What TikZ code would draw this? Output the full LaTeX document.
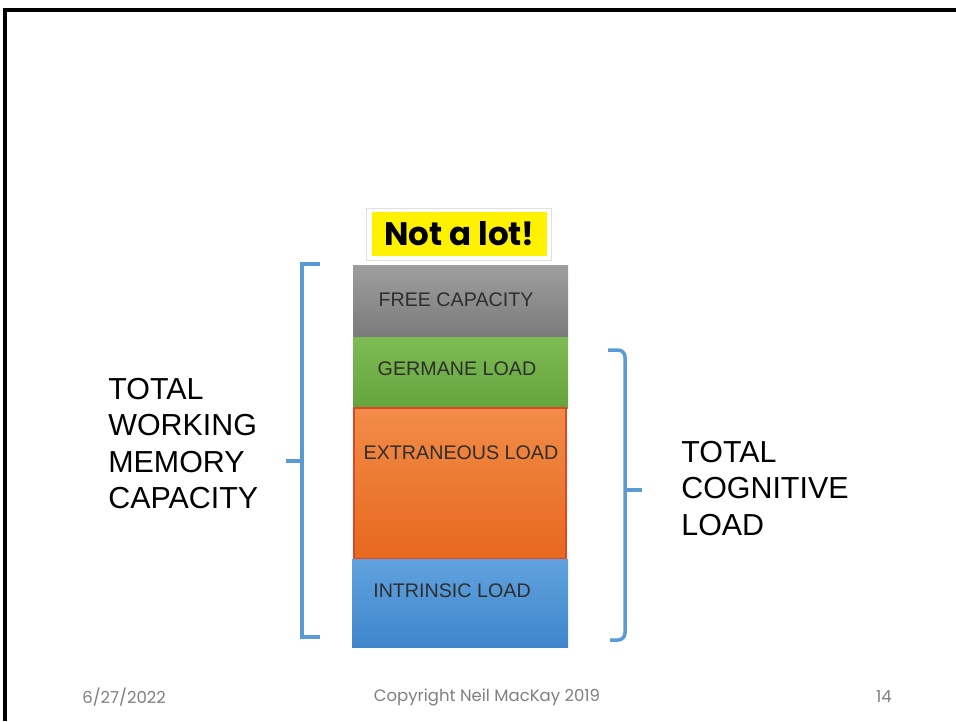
\documentclass[tikz,border=0pt]{standalone}
\usepackage{fontspec}
\setmainfont{Liberation Sans}
\newfontfamily\comicfont{Poppins}
\definecolor{bracketblue}{HTML}{5B9BD5}
\definecolor{labelgray}{HTML}{2E2E2E}
\definecolor{footgray}{HTML}{7F7F7F}
\tikzset{
  blocklabel/.style={inner sep=0pt, text=labelgray, font=\fontsize{11.2}{13}\selectfont},
  sidelabel/.style={inner sep=0pt, anchor=north west, align=left, font=\fontsize{17.3}{20.7}\selectfont},
  footlabel/.style={inner sep=0pt, text=footgray, font=\comicfont\fontsize{9.4}{11}\selectfont},
  bracket/.style={draw=bracketblue, line width=2pt}
}
\begin{document}
\begin{tikzpicture}[x=0.02cm, y=-0.02cm]
  \useasboundingbox (0,0) rectangle (956,721);
  % slide frame
  \draw[line width=2.2pt] (5,721) -- (5,10) -- (956,10);
  % stacked blocks
  \shade[top color=black!38, bottom color=black!52] (353,265) rectangle (568,337);
  \shade[top color={rgb,255:red,125;green,188;blue,84}, bottom color={rgb,255:red,100;green,163;blue,62}] (353,337) rectangle (568,408);
  \shade[top color={rgb,255:red,241;green,140;blue,72}, bottom color={rgb,255:red,232;green,104;blue,30}] (354,408) rectangle (566,559);
  \draw[draw={rgb,255:red,222;green,70;blue,40}, line width=0.6pt] (354,408) rectangle (566,559);
  \shade[top color={rgb,255:red,96;green,162;blue,222}, bottom color={rgb,255:red,64;green,134;blue,204}] (352,559) rectangle (568,647);
  \node[blocklabel] (free) at (456,300) {FREE CAPACITY};
  \node[blocklabel] (germane) at (457,369) {GERMANE LOAD};
  \node[blocklabel] (extraneous) at (461,453) {EXTRANEOUS LOAD};
  \node[blocklabel] (intrinsic) at (452,591) {INTRINSIC LOAD};
  % callout
  \draw[draw=black!12, fill=white, line width=0.5pt] (366,208) rectangle (551,260);
  \node[fill=yellow, minimum width=3.5cm, minimum height=0.88cm, inner sep=0pt,
        font=\comicfont\bfseries\fontsize{18.5}{20}\selectfont] (notalot) at (459.5,234) {Not a lot!};
  % left bracket
  \draw[bracket] (320,264) -- (302,264) -- (302,637) -- (320,637);
  \draw[bracket] (302,461) -- (286,461);
  % right bracket
  \draw[bracket, rounded corners=4pt] (608,350) -- (625,350) -- (625,640) -- (610,640);
  \draw[bracket] (625,490) -- (642,490);
  % side labels
  \node[sidelabel] (wmc) at (108,378) {TOTAL\\WORKING\\MEMORY\\CAPACITY};
  \node[sidelabel] (tcl) at (681,441) {TOTAL\\COGNITIVE\\LOAD};
  % footer
  \node[footlabel, anchor=west] (date) at (82,697) {6/27/2022};
  \node[footlabel] (copy) at (487,697) {Copyright Neil MacKay 2019};
  \node[footlabel] (page) at (884,697) {14};
\end{tikzpicture}
\end{document}
